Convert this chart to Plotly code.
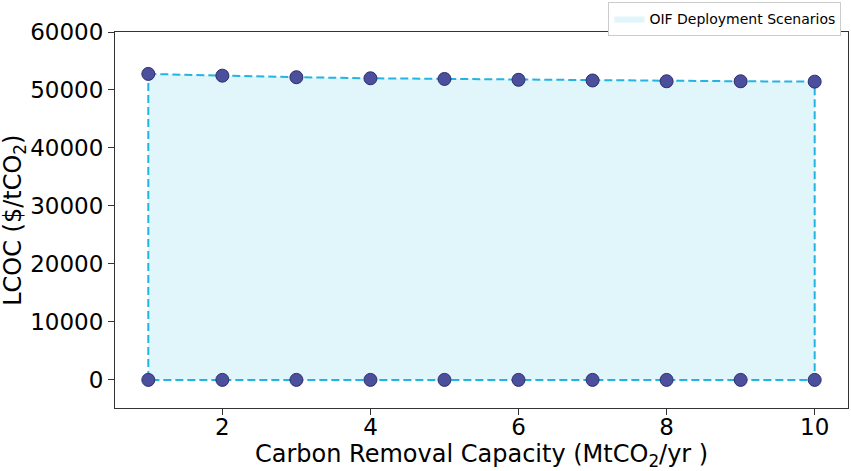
import plotly.graph_objects as go

# carbon removal capacity (MtCO2/yr)
capacity = [1, 2, 3, 4, 5, 6, 7, 8, 9, 10]
# levelized cost of carbon removal ($/tCO2), upper and lower scenario bounds
lcoc_high = [52770, 52470, 52200, 52020, 51900, 51760, 51640, 51500, 51500, 51440]
lcoc_low = [0, 0, 0, 0, 0, 0, 0, 0, 0, 0]

x_ticks = [2, 4, 6, 8, 10]
y_ticks = [0, 10000, 20000, 30000, 40000, 50000, 60000]

line_color = "#22b4e2"
fill_color = "#e0f6fb"
marker_color = "#4b4f9c"

# closed outline of the scenario envelope
outline_x = capacity + capacity[::-1] + [capacity[0]]
outline_y = lcoc_high + lcoc_low[::-1] + [lcoc_high[0]]

fig = go.Figure()

fig.add_trace(
    go.Scatter(
        x=outline_x,
        y=outline_y,
        mode="lines",
        fill="toself",
        fillcolor=fill_color,
        line=dict(width=0, color=fill_color),
        name="OIF Deployment Scenarios",
        hoverinfo="skip",
    )
)

fig.add_trace(
    go.Scatter(
        x=outline_x,
        y=outline_y,
        mode="lines",
        line=dict(color=line_color, width=2, dash="8px,4px"),
        showlegend=False,
        hoverinfo="skip",
    )
)

for series in (lcoc_high, lcoc_low):
    fig.add_trace(
        go.Scatter(
            x=capacity,
            y=series,
            mode="markers",
            marker=dict(
                size=13,
                color=marker_color,
                line=dict(color="#2b2e6e", width=1),
            ),
            showlegend=False,
        )
    )

axis_common = dict(
    showgrid=False,
    zeroline=False,
    showline=True,
    linecolor="#333333",
    linewidth=1,
    mirror=True,
    ticks="outside",
    ticklen=6,
    tickcolor="#333333",
    tickfont=dict(size=23, color="black"),
    automargin=False,
)

fig.update_xaxes(
    range=[0.55, 10.45],
    tickvals=x_ticks,
    tickformat="d",
    ticklabelstandoff=-8,
    **axis_common,
)
fig.update_yaxes(range=[-4850, 60000], tickvals=y_ticks, tickformat="d", **axis_common)

# axis titles placed as annotations to match the reference layout
fig.add_annotation(
    text="Carbon Removal Capacity (MtCO<sub>2</sub>/yr )",
    xref="paper",
    yref="paper",
    x=0.5,
    y=-0.127,
    yanchor="middle",
    showarrow=False,
    font=dict(size=24, color="black"),
)
fig.add_annotation(
    text="LCOC ($/tCO<sub>2</sub>)",
    xref="paper",
    yref="paper",
    x=-0.138,
    y=0.5,
    textangle=-90,
    xanchor="center",
    showarrow=False,
    font=dict(size=24, color="black"),
)

fig.update_layout(
    width=851,
    height=471,
    margin=dict(l=115, r=3, t=32, b=63, autoexpand=False),
    plot_bgcolor="white",
    paper_bgcolor="white",
    font=dict(family="DejaVu Sans", color="black"),
    legend=dict(
        x=0.991,
        y=1.08,
        xanchor="right",
        yanchor="top",
        bgcolor="white",
        bordercolor="#cccccc",
        borderwidth=1,
        itemwidth=30,
        font=dict(size=14),
    ),
)

# drop the default page margin so the figure sits at the window corner
fig.write_html(
    "out.html",
    config={"displayModeBar": False},
    post_script="document.body.style.margin = '0';",
)
